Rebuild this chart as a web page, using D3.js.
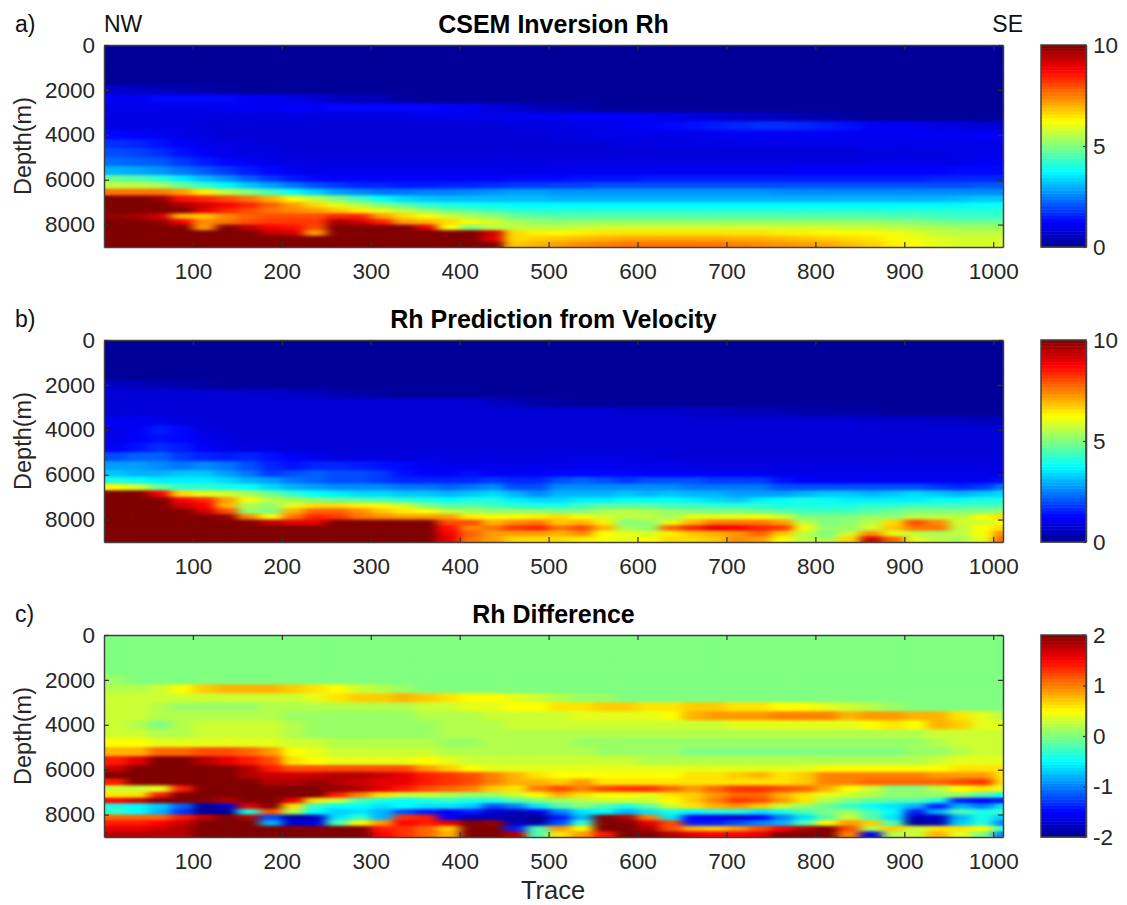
<!DOCTYPE html>
<html>
<head>
<meta charset="utf-8">
<script src="https://cdn.jsdelivr.net/npm/d3@7"></script>
<style>
body { margin: 0; background: #fff; }
text { font-family: "Liberation Sans", Arial, sans-serif; }
</style>
</head>
<body>
<svg id="drawing_region"></svg>
<script>
// trace edges of the cell columns, depth edges of the cell rows
const traceEdges = [0,25,50,75,100,125,150,175,200,225,250,275,300,325,350,375,400,425,450,475,500,525,550,575,600,625,650,675,700,725,750,775,800,825,850,875,900,925,950,975,1000,1011];
const depthEdges = [0,1000,1800,2200,2600,3000,3400,3800,4200,4600,5000,5400,5800,6100,6400,6700,7000,7250,7500,7750,8000,8250,8500,8750,9000];
const traceTicks = [100,200,300,400,500,600,700,800,900,1000];
const depthTicks = [0,2000,4000,6000,8000];

// all cell values are in tenths of Rh
const rhInversion = [
[1,1,1,1,1,1,1,1,1,1, 1,1,1,1,1,1,1,1,1,1, 1,1,1,1,1,1,1,1,1,1, 1,1,1,1,1,1,1,1,1,1, 1],
[1,1,1,1,1,1,1,1,1,1, 1,1,1,1,1,1,1,1,1,1, 1,1,1,1,1,1,1,1,1,1, 1,1,1,1,1,1,1,1,1,1, 1],
[7,6,5,4,3,2,1,1,1,1, 1,1,1,1,1,1,1,1,1,1, 1,1,1,1,1,1,1,1,1,1, 1,1,1,1,1,1,1,1,1,1, 1],
[11,11,13,13,13,13,12,11,10,8, 6,5,4,2,1,1,1,1,1,1, 1,1,1,1,1,1,1,1,1,1, 1,1,1,1,1,1,1,1,1,1, 1],
[10,10,10,10,10,11,11,11,12,12, 13,13,13,13,13,12,11,9,7,5, 4,3,1,1,1,1,1,1,1,1, 1,1,1,1,1,1,1,1,1,1, 1],
[9,9,9,9,9,9,9,9,9,9, 9,9,9,9,10,10,10,10,11,11, 11,12,12,12,11,10,9,8,7,6, 5,4,3,2,1,1,1,1,1,1, 1],
[9,9,9,9,8,8,8,8,8,8, 8,8,8,8,8,8,8,8,9,9, 9,10,10,11,12,13,14,15,16,17, 17,16,15,14,12,11,11,10,9,8, 7],
[13,12,11,10,9,8,8,8,8,8, 8,8,8,8,8,8,8,8,8,8, 9,9,10,10,10,10,10,11,11,11, 11,11,11,11,11,11,11,11,11,12, 12],
[17,16,14,12,10,9,9,8,8,8, 8,8,8,8,8,8,8,8,8,8, 8,8,8,9,9,9,9,9,10,10, 10,10,10,10,10,10,10,10,10,10, 10],
[20,19,17,14,12,10,9,9,8,8, 8,8,8,8,8,8,8,8,8,8, 8,8,8,8,8,8,8,8,8,8, 8,8,8,8,9,9,9,9,10,10, 10],
[23,22,21,18,15,13,11,10,9,9, 9,9,9,9,9,9,9,9,9,9, 9,9,9,9,9,9,9,9,9,9, 9,9,9,9,10,10,10,10,10,11, 11],
[30,29,27,24,21,18,15,13,11,10, 10,10,10,10,10,10,10,10,10,10, 11,11,11,11,11,11,11,11,11,11, 11,12,12,12,12,12,12,12,13,13, 13],
[48,46,42,36,31,27,22,18,15,13, 12,12,12,12,12,12,12,12,13,13, 13,14,14,14,15,15,15,15,15,15, 15,15,15,15,15,15,15,16,16,16, 16],
[56,56,54,48,42,37,32,28,24,20, 18,16,16,15,15,16,16,17,18,18, 19,19,20,20,20,20,20,20,20,20, 20,20,20,20,20,20,20,20,20,21, 21],
[76,76,76,72,64,56,50,44,38,33, 28,26,24,24,25,25,26,27,28,28, 27,27,27,27,27,27,27,27,27,27, 26,26,26,26,26,26,26,26,26,26, 26],
[100,100,98,86,84,80,76,70,62,56, 50,44,38,34,32,31,31,31,31,31, 30,30,30,30,30,30,30,30,30,30, 30,30,30,30,30,30,30,30,31,32, 32],
[100,100,100,96,92,88,84,78,72,66, 60,55,50,46,42,40,39,38,37,37, 37,37,37,37,37,37,37,37,37,37, 37,37,37,37,37,37,37,37,37,38, 38],
[100,100,100,100,90,84,80,76,74,72, 68,64,60,56,52,48,46,44,42,41, 41,41,41,41,41,41,41,41,41,41, 41,41,41,41,41,41,41,41,41,41, 41],
[98,96,92,70,68,74,78,80,80,80, 84,84,72,66,62,58,54,52,48,47, 46,46,46,46,46,46,46,46,46,46, 46,46,46,46,46,45,45,44,43,43, 43],
[100,100,98,88,74,76,80,82,82,82, 96,92,84,72,70,66,62,58,54,52, 51,52,52,52,52,52,52,52,52,52, 52,52,52,52,52,51,50,49,48,48, 48],
[100,100,100,100,72,100,94,88,86,80, 100,100,100,100,90,62,50,56,56,56, 56,57,58,58,58,58,58,58,58,58, 58,58,58,57,57,56,55,54,53,53, 53],
[100,100,100,100,100,100,100,94,92,72, 100,100,100,100,100,100,100,92,66,64, 63,64,65,65,65,65,65,65,65,65, 64,64,63,63,62,61,59,57,56,56, 56],
[100,100,100,100,100,100,100,100,100,100, 100,100,100,100,100,100,100,90,66,67, 68,69,70,71,71,71,71,71,70,70, 69,68,67,66,65,63,61,59,58,58, 58],
[100,100,100,100,100,100,100,100,100,100, 100,100,100,100,100,100,100,100,68,70, 72,74,75,76,76,76,76,76,75,74, 73,72,71,69,67,64,62,60,59,59, 59]
];

const rhPrediction = [
[1,1,1,1,1,1,1,1,1,1, 1,1,1,1,1,1,1,1,1,1, 1,1,1,1,1,1,1,1,1,1, 1,1,1,1,1,1,1,1,1,1, 1],
[1,1,1,1,1,1,1,1,1,1, 1,1,1,1,1,1,1,1,1,1, 1,1,1,1,1,1,1,1,1,1, 1,1,1,1,1,1,1,1,1,1, 1],
[6,5,4,3,2,1,1,1,1,1, 1,1,1,1,1,1,1,1,1,1, 1,1,1,1,1,1,1,1,1,1, 1,1,1,1,1,1,1,1,1,1, 1],
[8,8,8,8,8,8,7,7,6,5, 4,3,2,1,1,1,1,1,1,1, 1,1,1,1,1,1,1,1,1,1, 1,1,1,1,1,1,1,1,1,1, 1],
[8,8,8,8,8,8,8,8,8,8, 8,8,8,8,8,8,8,6,5,3, 2,1,1,1,1,1,1,1,1,1, 1,1,1,1,1,1,1,1,1,1, 1],
[8,8,8,8,8,8,8,8,8,8, 8,8,8,8,8,8,8,8,8,8, 8,8,8,7,7,7,6,6,5,5, 4,3,3,2,2,1,1,1,1,1, 1],
[11,11,10,9,8,8,8,8,8,8, 8,8,8,8,8,8,8,8,8,8, 8,8,8,8,8,8,8,8,8,8, 8,8,8,8,7,7,7,6,6,5, 5],
[10,12,15,13,9,8,8,8,8,8, 8,8,8,8,8,8,8,8,8,8, 8,8,8,8,8,8,8,8,8,8, 8,8,8,8,8,8,8,8,8,8, 8],
[10,12,14,13,10,9,8,8,8,8, 8,8,8,8,8,8,8,8,8,8, 8,8,8,8,8,8,8,8,8,8, 8,8,8,8,8,8,8,8,8,8, 8],
[11,14,17,15,12,10,9,9,8,8, 8,8,8,8,8,8,8,8,8,8, 8,8,8,8,8,8,8,8,8,8, 8,8,8,8,8,8,8,8,8,8, 8],
[20,22,22,18,16,15,16,14,12,10, 9,9,9,9,9,9,9,9,9,9, 9,9,9,9,9,8,8,8,8,8, 8,8,8,8,8,8,8,8,8,8, 8],
[28,28,26,24,26,24,20,16,14,16, 16,15,14,13,11,10,10,10,10,10, 10,11,11,10,10,10,9,9,9,9, 9,9,9,9,9,9,9,9,9,9, 9],
[32,30,30,32,32,28,24,18,20,22, 20,20,18,14,12,12,14,12,11,12, 13,13,13,13,12,12,12,11,11,11, 10,10,10,10,10,10,10,10,10,10, 9],
[40,38,36,36,36,34,30,28,24,22, 20,20,18,16,16,16,16,18,16,16, 20,22,20,18,20,20,20,18,18,18, 14,12,11,11,11,11,11,11,11,11, 14],
[62,58,48,42,42,40,38,34,30,28, 26,26,26,24,24,22,24,26,20,20, 26,26,26,26,26,26,24,24,24,24, 20,20,20,20,20,20,20,18,16,18, 24],
[100,100,88,66,60,58,54,48,42,38, 36,34,34,32,32,30,32,34,30,26, 30,30,30,32,30,32,30,30,28,28, 28,30,32,32,30,32,34,32,30,32, 34],
[100,100,100,88,84,72,62,56,54,50, 48,46,44,42,40,38,40,40,36,34, 34,36,36,38,38,38,36,34,32,36, 38,40,38,36,36,36,36,38,38,40, 40],
[100,100,100,92,88,70,54,52,60,66, 66,64,62,58,50,46,46,44,42,40, 40,44,46,46,46,44,44,42,42,42, 40,40,40,40,42,42,44,44,44,44, 44],
[100,100,100,100,92,80,52,50,70,78, 78,74,68,64,62,56,54,52,52,52, 50,50,54,56,54,52,50,50,50,48, 46,44,44,44,46,48,50,50,50,50, 52],
[100,100,100,100,100,98,74,62,76,84, 82,76,74,72,72,72,64,62,62,64, 66,62,58,56,56,54,60,60,60,62, 58,50,50,50,52,52,56,56,56,62, 66],
[100,100,100,100,100,100,100,94,90,90, 100,100,100,100,100,80,80,70,74,76, 68,70,64,50,52,60,70,76,76,76, 72,56,50,52,56,66,80,74,58,58, 62],
[100,100,100,100,100,100,100,100,100,100, 100,100,100,100,100,86,74,76,82,84, 76,80,70,54,52,78,84,90,88,84, 82,62,52,52,58,68,76,76,56,62, 66],
[100,100,100,100,100,100,100,100,100,100, 100,100,100,100,100,88,78,72,72,72, 70,74,62,60,58,64,68,70,72,78, 68,56,50,58,74,60,56,54,56,62, 74],
[100,100,100,100,100,100,100,100,100,100, 100,100,100,100,100,90,76,72,66,66, 66,64,62,60,62,66,66,68,74,72, 62,56,54,66,92,78,60,56,54,60, 78]
];

const rhDifference = [
[0,0,0,0,0,0,0,0,0,0, 0,0,0,0,0,0,0,0,0,0, 0,0,0,0,0,0,0,0,0,0, 0,0,0,0,0,0,0,0,0,0, 0],
[0,0,0,0,0,0,0,0,0,0, 0,0,0,0,0,0,0,0,0,0, 0,0,0,0,0,0,0,0,0,0, 0,0,0,0,0,0,0,0,0,0, 0],
[1,0,0,0,0,0,0,0,0,0, 0,0,0,0,0,0,0,0,0,0, 0,0,0,0,0,0,0,0,0,0, 0,0,0,0,0,0,0,0,0,0, 0],
[2,2,3,5,7,8,8,8,7,6, 5,3,2,1,0,0,0,0,0,0, 0,0,0,0,0,0,0,0,0,0, 0,0,0,0,0,0,0,0,0,0, 0],
[3,3,3,3,3,3,3,3,3,4, 6,7,7,8,7,6,5,5,4,3, 2,1,1,0,0,0,0,0,0,0, 0,0,0,0,0,0,0,0,0,0, 0],
[3,3,2,1,1,1,1,2,2,2, 2,2,2,2,3,3,4,4,5,5, 6,6,7,7,6,6,7,7,6,6, 5,5,4,3,2,1,0,0,0,0, 0],
[3,3,2,2,2,2,2,2,1,1, 1,1,1,1,2,2,2,3,3,3, 3,4,4,4,4,5,8,9,9,9, 10,10,10,8,9,9,8,8,6,4, 2],
[3,2,0,2,3,3,3,3,2,1, 1,1,1,1,1,2,2,2,3,3, 3,3,3,3,3,3,3,3,4,4, 4,4,4,4,5,6,5,8,7,4, 4],
[3,3,2,2,3,3,3,3,2,1, 1,1,1,1,1,2,2,2,2,2, 2,2,2,2,2,2,2,2,2,2, 2,2,2,2,2,2,2,3,3,3, 3],
[5,5,4,4,4,4,4,4,3,3, 2,2,2,2,2,1,1,2,2,2, 2,1,1,1,1,1,1,1,1,1, 1,1,1,1,1,1,1,2,3,3, 3],
[8,8,11,11,12,12,11,9,5,4, 3,3,3,3,3,2,2,2,2,2, 2,2,1,1,1,1,0,0,0,0, 0,0,0,0,0,0,1,1,2,3, 3],
[14,16,20,20,18,16,14,12,6,5, 4,4,4,4,5,4,3,3,3,3, 3,3,3,3,2,2,2,2,2,2, 2,2,2,2,2,2,2,3,4,4, 4],
[17,20,20,20,20,20,18,14,12,12, 12,12,12,12,9,7,5,4,4,4, 4,4,4,4,4,4,4,4,4,4, 4,4,5,5,5,5,5,5,6,6, 6],
[20,20,20,20,20,20,18,17,17,17, 18,18,17,16,14,13,12,10,8,6, 5,5,5,5,5,5,6,6,7,8, 6,7,10,10,10,10,10,9,9,9, 6],
[14,20,20,20,20,20,20,18,18,19, 18,17,16,16,14,13,12,10,8,8, 7,9,6,6,6,6,6,6,6,6, 6,7,10,10,11,11,11,11,12,13, 6],
[3,3,4,14,20,20,20,20,20,20, 19,18,16,14,12,11,10,7,6,10, 12,10,12,13,13,11,9,11,13,13, 12,11,8,5,3,0,0,2,5,6, 4],
[6,6,14,20,20,20,20,20,20,20, 14,10,6,3,3,2,1,1,3,5, 8,6,5,5,4,6,7,9,11,11, 8,6,4,3,2,1,1,1,1,-2, -4],
[15,17,20,20,20,18,20,20,16,6, 3,-2,-4,-5,-4,-3,-4,-4,-2,0, 1,2,3,3,3,5,7,10,13,12, 9,6,2,0,-1,-2,-2,-4,-14,-15, -14],
[-4,-5,-7,-11,-19,-17,16,20,6,-3, -5,-5,-6,-5,-6,-6,-7,-12,-10,-6, -2,0,-2,-4,-1,3,6,8,9,7, 3,1,-1,-3,-5,-6,-8,-14,-8,-10, -6],
[-3,-5,-8,-13,-20,-20,-4,12,2,-5, -7,-6,-8,-12,-14,-16,-14,-17,-18,-16, -10,-6,-5,-8,-6,-4,-5,-4,-4,-6, -4,-2,0,1,-2,-5,-14,-8,-2,-4, -3],
[11,11,11,14,17,20,18,-12,-19,-18, -6,-3,-8,13,14,-15,-18,-18,-19,-20, -14,-8,20,18,10,-6,-15,-16,-17,-15, -10,-6,-2,3,-2,-6,-18,-18,-8,-4, -7],
[14,14,15,17,20,20,20,-8,-17,-16, -2,5,9,15,14,16,20,19,-18,-19, -12,-3,20,20,16,12,-14,-14,-12,-10, -8,-2,5,9,7,-2,-20,-18,-7,-4, -10],
[16,16,17,18,20,20,20,20,20,20, 20,20,14,13,11,7,20,20,-14,-2, 9,5,20,20,18,12,8,7,9,12, 15,18,20,12,2,7,3,6,6,5, -3],
[18,18,18,18,20,20,20,20,20,20, 20,20,15,13,11,8,20,20,18,-2, 6,9,14,20,20,18,16,15,15,16, 20,20,20,10,-16,2,3,8,4,0, -10]
];

const panelLetters = ["a)", "b)", "c)"];
const panelTitles = ["CSEM Inversion Rh", "Rh Prediction from Velocity", "Rh Difference"];
const colorDomains = [[0, 10], [0, 10], [-2, 2]];
const colorTicks = [[0, 5, 10], [0, 5, 10], [-2, -1, 0, 1, 2]];
const panelValues = [rhInversion, rhPrediction, rhDifference];

// MATLAB jet
const jetStops = [0, 0.125, 0.375, 0.625, 0.875, 1];
const jetColors = ["#00008f", "#0000ff", "#00ffff", "#ffff00", "#ff0000", "#800000"];

const config = {
    width: 1127,
    height: 905,
    margin: {left: 104, right: 124},
    panelTops: [45, 340, 635],
    panelHeight: 202,
    barX: 1041,
    barWidth: 45
};

const svg = d3.select("#drawing_region")
    .attr("width", config.width)
    .attr("height", config.height)
    .style("display", "block");

const jet = d3.scaleLinear().domain(jetStops).range(jetColors).clamp(true);

const xscale = d3.scaleLinear()
    .domain([0, 1011])
    .range([config.margin.left, config.width - config.margin.right]);

const yscale = d3.scaleLinear()
    .domain([0, 9000])
    .range([0, config.panelHeight]);

const defs = svg.append("defs");

// the cells are coarse, soften them a little and keep the sharp ones at the rim
const filter = defs.append("filter")
    .attr("id", "soften")
    .attr("filterUnits", "userSpaceOnUse")
    .attr("x", 0).attr("y", 0)
    .attr("width", config.width).attr("height", config.height)
    .attr("color-interpolation-filters", "sRGB");
filter.append("feGaussianBlur")
    .attr("in", "SourceGraphic")
    .attr("stdDeviation", "6 1.6")
    .attr("result", "soft");
const merge = filter.append("feMerge");
merge.append("feMergeNode").attr("in", "SourceGraphic");
merge.append("feMergeNode").attr("in", "soft");

function styleAxis(group) {
    group.select(".domain").attr("stroke", "#404040").attr("stroke-width", 1.5);
    group.selectAll(".tick line").attr("stroke", "#303030").attr("stroke-width", 1.2);
    group.selectAll(".tick text")
        .attr("fill", "#262626")
        .attr("font-size", "22.5px")
        .style("font-family", '"Liberation Sans", Arial, sans-serif');
}

const plain = d => String(d);

panelValues.forEach((values, p) => {
    const top = config.panelTops[p];
    const domain = colorDomains[p];
    const colorNorm = d3.scaleLinear().domain(domain).range([0, 1]);

    const chart = svg.append("g").attr("transform", `translate(0, ${top})`);

    defs.append("clipPath").attr("id", `clip${p}`)
        .append("rect")
        .attr("x", xscale(0)).attr("y", 0)
        .attr("width", xscale(1011) - xscale(0))
        .attr("height", config.panelHeight);

    const cells = chart.append("g")
        .attr("clip-path", `url(#clip${p})`)
        .append("g")
        .attr("filter", "url(#soften)");

    values.forEach((row, r) => {
        cells.selectAll(`rect.r${r}`)
            .data(row)
            .enter()
            .append("rect")
            .attr("class", `r${r}`)
            .attr("x", (d, i) => xscale(traceEdges[i]))
            .attr("y", yscale(depthEdges[r]))
            .attr("width", (d, i) => xscale(traceEdges[i + 1]) - xscale(traceEdges[i]) + 0.5)
            .attr("height", yscale(depthEdges[r + 1]) - yscale(depthEdges[r]) + 0.5)
            .attr("fill", d => jet(colorNorm(d / 10)));
    });

    // axes, MATLAB box with inward ticks on every side
    const bottom = chart.append("g")
        .attr("transform", `translate(0, ${config.panelHeight})`)
        .call(d3.axisBottom(xscale).tickValues(traceTicks).tickFormat(plain).tickSizeInner(-5).tickSizeOuter(0).tickPadding(16));
    const topAxis = chart.append("g")
        .call(d3.axisTop(xscale).tickValues(traceTicks).tickSizeInner(-5).tickSizeOuter(0).tickFormat(""));
    const left = chart.append("g")
        .attr("transform", `translate(${config.margin.left}, 0)`)
        .call(d3.axisLeft(yscale).tickValues(depthTicks).tickFormat(plain).tickSizeInner(-5).tickSizeOuter(0).tickPadding(9));
    const right = chart.append("g")
        .attr("transform", `translate(${xscale(1011)}, 0)`)
        .call(d3.axisRight(yscale).tickValues(depthTicks).tickSizeInner(-5).tickSizeOuter(0).tickFormat(""));
    [bottom, topAxis, left, right].forEach(styleAxis);

    // colour bar
    const barScale = d3.scaleLinear().domain(domain).range([config.panelHeight, 0]);
    const steps = d3.range(64);
    const stepValue = d3.scaleLinear().domain([0, 64]).range(domain);
    chart.selectAll("rect.step")
        .data(steps)
        .enter()
        .append("rect")
        .attr("class", "step")
        .attr("x", config.barX)
        .attr("y", d => barScale(stepValue(d + 1)))
        .attr("width", config.barWidth)
        .attr("height", d => barScale(stepValue(d)) - barScale(stepValue(d + 1)) + 0.5)
        .attr("fill", d => jet((d + 0.5) / 64));
    const barAxis = chart.append("g")
        .attr("transform", `translate(${config.barX + config.barWidth}, 0)`)
        .call(d3.axisRight(barScale).tickValues(colorTicks[p]).tickFormat(plain).tickSizeInner(-3).tickSizeOuter(0).tickPadding(7));
    styleAxis(barAxis);
    chart.append("rect")
        .attr("x", config.barX).attr("y", 0)
        .attr("width", config.barWidth).attr("height", config.panelHeight)
        .attr("fill", "none").attr("stroke", "#404040").attr("stroke-width", 1.5);

    // labels
    chart.append("text")
        .attr("x", 15).attr("y", -13)
        .attr("font-size", "23px").attr("fill", "#111")
        .text(panelLetters[p]);
    chart.append("text")
        .attr("x", (xscale(0) + xscale(1011)) / 2).attr("y", -12)
        .attr("text-anchor", "middle")
        .attr("font-size", "25px").attr("font-weight", "bold").attr("fill", "#000")
        .text(panelTitles[p]);
    chart.append("text")
        .attr("transform", `translate(31, ${config.panelHeight / 2}) rotate(-90)`)
        .attr("text-anchor", "middle")
        .attr("font-size", "23.5px").attr("fill", "#262626")
        .text("Depth(m)");
});

svg.append("text")
    .attr("x", 104).attr("y", 32)
    .attr("font-size", "23px").attr("fill", "#111")
    .text("NW");
svg.append("text")
    .attr("x", 1023).attr("y", 32)
    .attr("text-anchor", "end")
    .attr("font-size", "23px").attr("fill", "#111")
    .text("SE");
svg.append("text")
    .attr("x", 553).attr("y", 899)
    .attr("text-anchor", "middle")
    .attr("font-size", "25.5px").attr("fill", "#262626")
    .text("Trace");
</script>
</body>
</html>
